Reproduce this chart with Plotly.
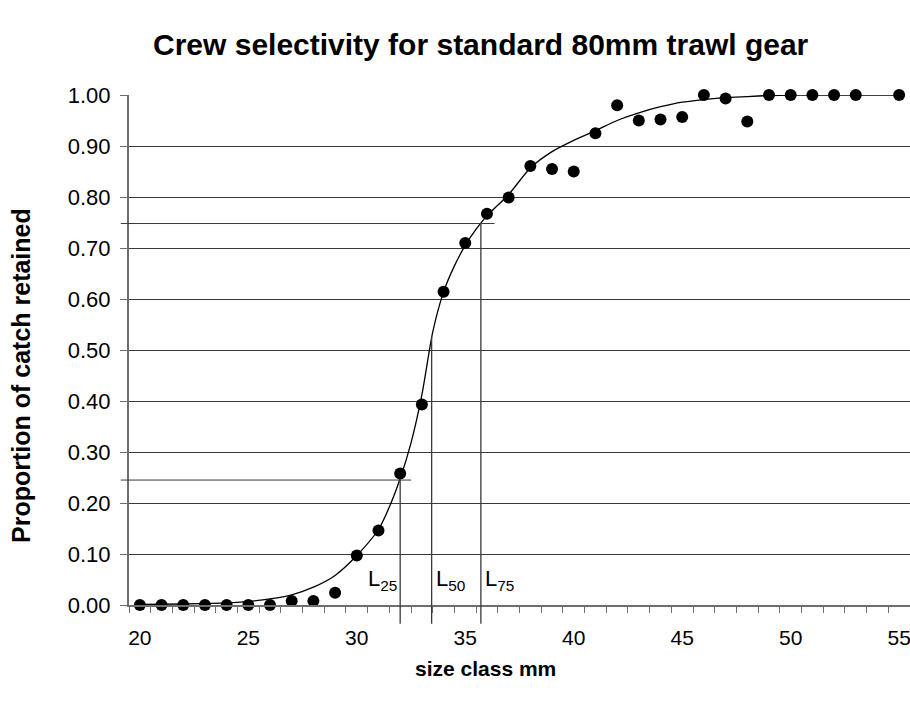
import plotly.graph_objects as go

# Observed proportion retained by size class (mm)
size_class = [20, 21, 22, 23, 24, 25, 26, 27, 28, 29, 30, 31, 32, 33, 34, 35, 36,
              37, 38, 39, 40, 41, 42, 43, 44, 45, 46, 47, 48, 49, 50, 51, 52, 53, 55]
retained = [0.000, 0.000, 0.000, 0.000, 0.000, 0.000, 0.000, 0.008, 0.008, 0.024,
            0.097, 0.146, 0.258, 0.393, 0.614, 0.710, 0.767, 0.799, 0.861, 0.855,
            0.850, 0.925, 0.980, 0.950, 0.952, 0.957, 1.000, 0.993, 0.948, 1.000,
            1.000, 1.000, 1.000, 1.000, 1.000]

# Fitted selectivity curve
fit_size = [20, 22, 24, 25, 26, 27, 28, 29, 30, 31, 31.5, 32, 32.5, 33, 33.5, 34,
            34.5, 35, 35.5, 36, 37, 38, 39, 40, 41, 42, 43, 44, 45, 46, 47, 48, 49,
            50, 55]
fit_retained = [0.001, 0.002, 0.004, 0.007, 0.012, 0.020, 0.035, 0.058, 0.097, 0.148,
                0.192, 0.248, 0.318, 0.412, 0.535, 0.614, 0.665, 0.705, 0.737, 0.763,
                0.805, 0.857, 0.889, 0.911, 0.930, 0.950, 0.965, 0.977, 0.986, 0.991,
                0.995, 0.997, 0.999, 1.000, 1.000]

# Selection lengths and the retention levels they are read at
sel_names = ["25", "50", "75"]
sel_lengths = [32.0, 33.45, 35.72]
sel_levels = [0.245, 0.525, 0.748]

# Reference levels drawn across from the axis
ref_levels = [0.245, 0.748]
ref_ends = [32.5, 36.35]

x_ticks = [20, 25, 30, 35, 40, 45, 50, 55]

X_RANGE = [19.5, 55.5]
Y_RANGE = [0.0, 1.0]
FONT = "Liberation Sans, Arial, sans-serif"
GRID = "#3a3a3a"
AXIS = "#6e6e6e"


def xpaper(v):
    return (v - X_RANGE[0]) / (X_RANGE[1] - X_RANGE[0])


def ypaper(v):
    return (v - Y_RANGE[0]) / (Y_RANGE[1] - Y_RANGE[0])


fig = go.Figure()

fig.add_trace(go.Scatter(
    x=fit_size, y=fit_retained, mode="lines",
    line=dict(color="black", width=1.3, shape="spline", smoothing=0.7),
    hoverinfo="skip", showlegend=False,
))

fig.add_trace(go.Scatter(
    x=size_class, y=retained, mode="markers",
    marker=dict(color="black", size=12, line=dict(width=0)),
    showlegend=False, cliponaxis=False,
))

shapes = []
# horizontal reference lines starting just left of the y axis
for lvl, end in zip(ref_levels, ref_ends):
    shapes.append(dict(type="line", xref="paper", yref="y",
                       x0=-0.0105, x1=xpaper(end), y0=lvl, y1=lvl,
                       line=dict(color=GRID, width=1)))
# vertical lines from the curve down past the x axis
for L, lvl in zip(sel_lengths, sel_levels):
    shapes.append(dict(type="line", xref="x", yref="paper",
                       x0=L, x1=L, y0=-0.037, y1=ypaper(lvl),
                       line=dict(color=GRID, width=1.3)))

annotations = []
anchors = ["right", "left", "left"]
shifts = [-1, 2, 2]
for name, L, anc, sh in zip(sel_names, sel_lengths, anchors, shifts):
    annotations.append(dict(
        x=L, y=0.05, xref="x", yref="y", text="L<sub>%s</sub>" % name,
        showarrow=False, xanchor=anc, yanchor="middle", xshift=sh,
        font=dict(family=FONT, size=22, color="black"),
    ))

annotations.append(dict(
    xref="paper", yref="paper", x=(481 - 129) / 781, y=(605 - 45) / 510,
    text="Crew selectivity for standard 80mm trawl gear", showarrow=False,
    xanchor="center", yanchor="middle",
    font=dict(family=FONT, size=30, color="black", weight="bold"),
))
annotations.append(dict(
    xref="paper", yref="paper", x=(485 - 129) / 781, y=(605 - 668) / 510,
    text="size class mm", showarrow=False, xanchor="center", yanchor="middle",
    font=dict(family=FONT, size=21, color="black", weight="bold"),
))
annotations.append(dict(
    xref="paper", yref="paper", x=(21 - 129) / 781, y=(605 - 376) / 510,
    text="Proportion of catch retained", showarrow=False, textangle=-90,
    xanchor="center", yanchor="middle",
    font=dict(family=FONT, size=25, color="black", weight="bold"),
))

fig.update_layout(
    width=910, height=704,
    margin=dict(l=129, r=0, t=95, b=99, pad=0),
    paper_bgcolor="white", plot_bgcolor="white",
    shapes=shapes, annotations=annotations,
    font=dict(family=FONT, color="black"),
    showlegend=False,
)

fig.update_xaxes(
    range=X_RANGE, tickmode="array", tickvals=x_ticks,
    ticks="", showgrid=False, zeroline=False,
    showline=True, linecolor=AXIS, linewidth=2,
    tickfont=dict(family=FONT, size=21, color="black"),
    ticklabelstandoff=13, ticklabeloverflow="allow",
    minor=dict(tick0=19.5, dtick=1, ticks="outside", ticklen=6,
               tickcolor=AXIS, tickwidth=1, showgrid=False),
)

fig.update_yaxes(
    range=Y_RANGE, tick0=0, dtick=0.1, tickformat=".2f",
    ticks="outside", ticklen=7, tickcolor=AXIS, tickwidth=1,
    showgrid=True, gridcolor=GRID, gridwidth=1, zeroline=False,
    showline=True, linecolor=AXIS, linewidth=2,
    tickfont=dict(family=FONT, size=22, color="black"),
    ticklabelstandoff=5,
)

fig.write_html("out.html")
